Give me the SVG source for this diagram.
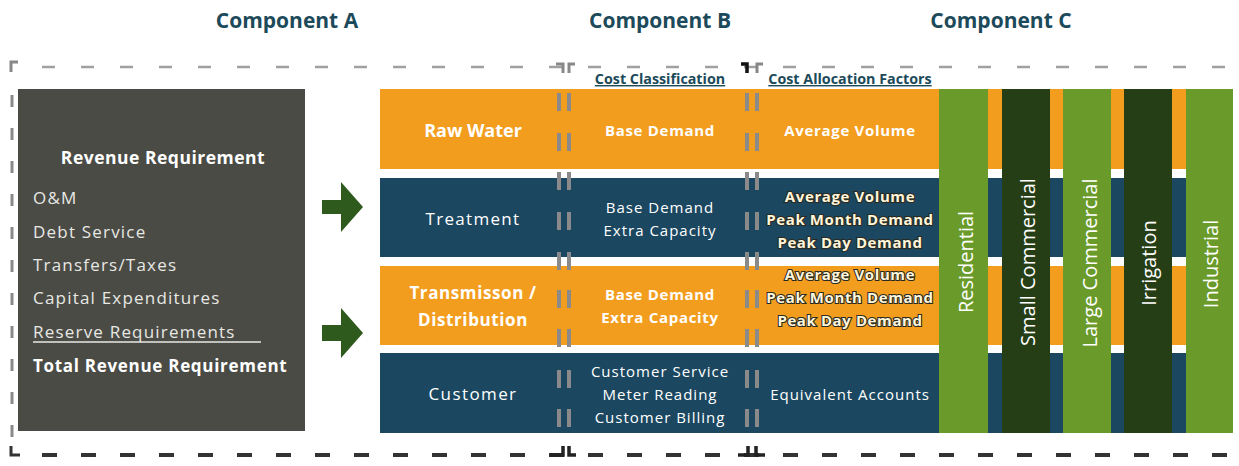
<svg xmlns="http://www.w3.org/2000/svg" width="1239" height="466" viewBox="0 0 1239 466">
<defs>
<style>
text{font-family:"Open Sans","Liberation Sans",sans-serif;fill:#fff}
.title{font-size:21px;font-weight:700;fill:#1c4a5a;text-anchor:middle}
.hdr{font-size:14.3px;font-weight:700;fill:#1c4a5a;text-anchor:middle;text-decoration:underline}
.lst{font-size:17px;fill:#e8e8e4;letter-spacing:1.2px}
.c{text-anchor:middle}
.rb{font-size:15px;letter-spacing:1px;text-anchor:middle}
.bb{font-size:15px;font-weight:700;letter-spacing:0.7px;text-anchor:middle}
.b{font-weight:700}
.sh{fill:#fff6dc;stroke:#2a2a20;stroke-width:2.2px;paint-order:stroke;font-weight:700;font-size:15px;letter-spacing:0.6px;text-anchor:middle}
.vt{font-size:20px;text-anchor:middle}
.org{fill:#f39d1e}
.blu{fill:#1b4760}
.lg{fill:#6a9b2a}
.dg{fill:#263e16}
.sep{fill:#8a8a8a}
.arr{fill:#2f5a1e}
</style>
</defs>
<rect width="1239" height="466" fill="#fff"/>

<g id="titles">
<text class="title" x="287" y="28">Component A</text>
<text class="title" x="660" y="28">Component B</text>
<text class="title" x="1001" y="28">Component C</text>
</g>

<g id="frame">
<line x1="42" y1="67" x2="1239" y2="67" stroke="#a0a0a0" stroke-width="2.5" stroke-dasharray="13 26"/>
<line x1="42" y1="455" x2="1239" y2="455" stroke="#333" stroke-width="4" stroke-dasharray="15 24"/>
<line x1="12" y1="95" x2="12" y2="445" stroke="#8a8a8a" stroke-width="3" stroke-dasharray="12 21"/>
<path d="M11 72 V62 H18" fill="none" stroke="#888" stroke-width="3"/>
<path d="M11 446 V455 H20" fill="none" stroke="#333" stroke-width="3"/>
<path d="M556 64 H563 V73 M575 64 H569 V73" fill="none" stroke="#888" stroke-width="3"/>
<path d="M550 455 H563 V446 M576 455 H569 V446" fill="none" stroke="#222" stroke-width="3.5"/>
<path d="M741 64 H747 V73" fill="none" stroke="#111" stroke-width="3.5"/>
<path d="M763 64 H757 V73" fill="none" stroke="#888" stroke-width="3"/>
<path d="M738 455 H748 V446 M765 455 H756 V446" fill="none" stroke="#222" stroke-width="3.5"/>
</g>

<g id="componentA">
<rect x="18" y="89" width="287" height="342" fill="#4a4b45"/>
<text x="163" y="164" class="c b" font-size="17.5" letter-spacing="0.5">Revenue Requirement</text>
<text class="lst" x="33" y="204">O&amp;M</text>
<text class="lst" x="33" y="238">Debt Service</text>
<text class="lst" x="33" y="271">Transfers/Taxes</text>
<text class="lst" x="33" y="304">Capital Expenditures</text>
<text class="lst" x="33" y="338">Reserve Requirements</text>
<line x1="33" y1="342" x2="261" y2="342" stroke="#e8e8e4" stroke-width="1.3"/>
<text x="33" y="372" class="b" font-size="17" letter-spacing="0.7">Total Revenue Requirement</text>
</g>

<g id="connectors">
<path class="arr" d="M322 200 H341 V182 L363 207 L341 232 V214 H322 Z"/>
<path class="arr" d="M322 325 H341 V308 L363 333 L341 358 V341 H322 Z"/>
</g>

<g id="rows">
<rect class="org" x="380" y="89" width="853" height="80"/>
<rect class="blu" x="380" y="178" width="853" height="79"/>
<rect class="org" x="380" y="266" width="853" height="79"/>
<rect class="blu" x="380" y="353" width="853" height="80"/>
</g>

<g id="separators">
<g id="sepB">
<rect class="sep" x="557" y="93" width="4" height="18"/><rect class="sep" x="567" y="93" width="4" height="18"/>
<rect class="sep" x="557" y="133" width="4" height="18"/><rect class="sep" x="567" y="133" width="4" height="18"/>
<rect class="sep" x="557" y="172" width="4" height="18"/><rect class="sep" x="567" y="172" width="4" height="18"/>
<rect class="sep" x="557" y="212" width="4" height="18"/><rect class="sep" x="567" y="212" width="4" height="18"/>
<rect class="sep" x="557" y="252" width="4" height="18"/><rect class="sep" x="567" y="252" width="4" height="18"/>
<rect class="sep" x="557" y="290" width="4" height="18"/><rect class="sep" x="567" y="290" width="4" height="18"/>
<rect class="sep" x="557" y="329" width="4" height="18"/><rect class="sep" x="567" y="329" width="4" height="18"/>
<rect class="sep" x="557" y="370" width="4" height="18"/><rect class="sep" x="567" y="370" width="4" height="18"/>
<rect class="sep" x="557" y="409" width="4" height="18"/><rect class="sep" x="567" y="409" width="4" height="18"/>
</g>
<g id="sepC">
<rect class="sep" x="745" y="93" width="4" height="18"/><rect class="sep" x="755" y="93" width="4" height="18"/>
<rect class="sep" x="745" y="133" width="4" height="18"/><rect class="sep" x="755" y="133" width="4" height="18"/>
<rect class="sep" x="745" y="172" width="4" height="18"/><rect class="sep" x="755" y="172" width="4" height="18"/>
<rect class="sep" x="745" y="212" width="4" height="18"/><rect class="sep" x="755" y="212" width="4" height="18"/>
<rect class="sep" x="745" y="252" width="4" height="18"/><rect class="sep" x="755" y="252" width="4" height="18"/>
<rect class="sep" x="745" y="290" width="4" height="18"/><rect class="sep" x="755" y="290" width="4" height="18"/>
<rect class="sep" x="745" y="329" width="4" height="18"/><rect class="sep" x="755" y="329" width="4" height="18"/>
<rect class="sep" x="745" y="370" width="4" height="18"/><rect class="sep" x="755" y="370" width="4" height="18"/>
<rect class="sep" x="745" y="409" width="4" height="18"/><rect class="sep" x="755" y="409" width="4" height="18"/>
</g>
</g>

<g id="headers">
<text class="hdr" x="660" y="84">Cost Classification</text>
<text class="hdr" x="850" y="84">Cost Allocation Factors</text>
</g>

<g id="row-raw-water">
<text class="c b" x="473" y="137" font-size="18">Raw Water</text>
<text class="bb" x="660" y="136">Base Demand</text>
<text class="bb" x="850" y="136" letter-spacing="0.5">Average Volume</text>
</g>
<g id="row-treatment">
<text class="c" x="473" y="225" font-size="17" letter-spacing="1.3">Treatment</text>
<text class="rb" x="660" y="213">Base Demand</text>
<text class="rb" x="660" y="236">Extra Capacity</text>
<text class="sh" x="850" y="202">Average Volume</text>
<text class="sh" x="850" y="225">Peak Month Demand</text>
<text class="sh" x="850" y="248">Peak Day Demand</text>
</g>
<g id="row-transmission">
<text class="c b" x="473" y="299" font-size="17" letter-spacing="0.6">Transmisson /</text>
<text class="c b" x="473" y="326" font-size="17" letter-spacing="0.6">Distribution</text>
<text class="bb" x="660" y="300">Base Demand</text>
<text class="bb" x="660" y="323">Extra Capacity</text>
<text class="sh" x="850" y="280">Average Volume</text>
<text class="sh" x="850" y="303">Peak Month Demand</text>
<text class="sh" x="850" y="326">Peak Day Demand</text>
</g>
<g id="row-customer">
<text class="c" x="473" y="400" font-size="17" letter-spacing="1.4">Customer</text>
<text class="rb" x="660" y="377">Customer Service</text>
<text class="rb" x="660" y="400">Meter Reading</text>
<text class="rb" x="660" y="423">Customer Billing</text>
<text class="rb" x="850" y="400" letter-spacing="1.1">Equivalent Accounts</text>
</g>

<g id="residential">
<rect class="lg" x="939" y="89" width="49" height="344"/>
<text class="vt" transform="translate(973 262) rotate(-90)">Residential</text>
</g>
<g id="small-commercial">
<rect class="dg" x="1002" y="89" width="48" height="344"/>
<text class="vt" transform="translate(1035 262) rotate(-90)">Small Commercial</text>
</g>
<g id="large-commercial">
<rect class="lg" x="1063" y="89" width="48" height="344"/>
<text class="vt" transform="translate(1097 263) rotate(-90)">Large Commercial</text>
</g>
<g id="irrigation">
<rect class="dg" x="1124" y="89" width="48" height="344"/>
<text class="vt" transform="translate(1156 263) rotate(-90)">Irrigation</text>
</g>
<g id="industrial">
<rect class="lg" x="1186" y="89" width="47" height="344"/>
<text class="vt" transform="translate(1218 264) rotate(-90)">Industrial</text>
</g>
</svg>
